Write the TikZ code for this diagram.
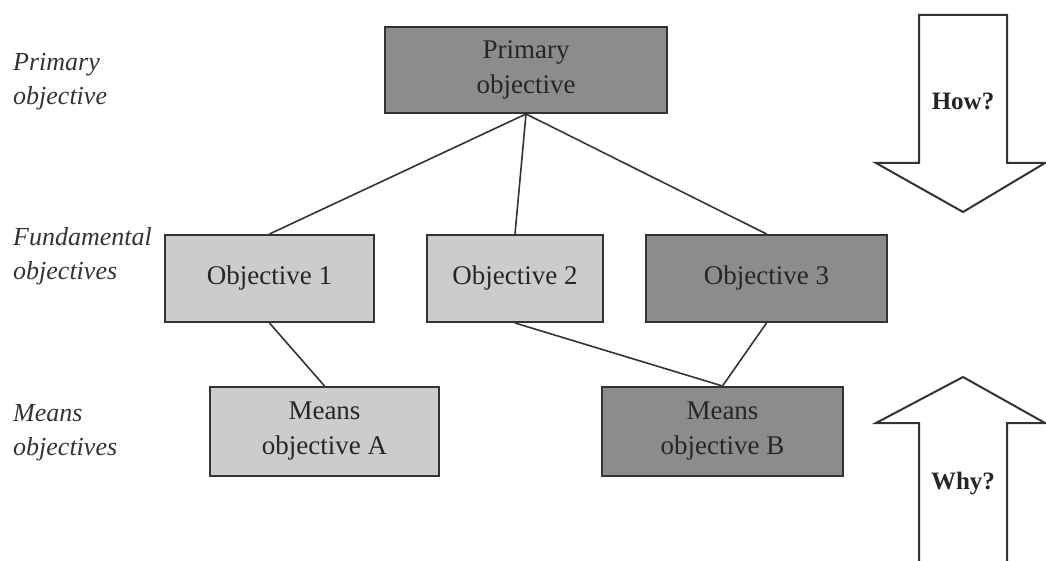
\documentclass[tikz,border=0pt]{standalone}
\usepackage{fontspec}
\setmainfont{Liberation Serif}
\definecolor{darkfill}{HTML}{8C8C8C}
\definecolor{lightfill}{HTML}{CCCCCC}
\definecolor{edge}{HTML}{333333}
\begin{document}
\begin{tikzpicture}[x=1pt,y=-1pt,
  objbox/.style={draw=edge, line width=2pt, inner sep=0pt, align=center,
    font=\fontsize{27}{35}\selectfont, text=black!85},
  darkbox/.style={objbox, fill=darkfill},
  lightbox/.style={objbox, fill=lightfill},
  levellabel/.style={anchor=north west, align=left, inner sep=0pt,
    font=\fontsize{26}{34}\selectfont\itshape, text=black!80},
  link/.style={draw=edge, line width=1.6pt},
  bigarrow/.style={draw=edge, line width=2pt, fill=white, line join=miter},
  arrowtext/.style={font=\fontsize{25}{30}\selectfont\bfseries, text=black!85}]
\useasboundingbox (0,0) rectangle (1046,561);

% level labels on the left
\node[levellabel] (lblprimary) at (13,53) {Primary\\objective};
\node[levellabel] (lblfund) at (13,227) {Fundamental\\objectives};
\node[levellabel] (lblmeans) at (13,404) {Means\\objectives};

% objective boxes
\node[darkbox, minimum width=282pt, minimum height=86pt] (primary) at (526,70) {Primary\\objective};
\node[lightbox, minimum width=209pt, minimum height=87pt] (obj1) at (269.5,278.5) {Objective 1};
\node[lightbox, minimum width=176pt, minimum height=87pt] (obj2) at (515,278.5) {Objective 2};
\node[darkbox, minimum width=241pt, minimum height=87pt] (obj3) at (766.5,278.5) {Objective 3};
\node[lightbox, minimum width=229pt, minimum height=89pt] (meansA) at (324.5,431.5) {Means\\objective A};
\node[darkbox, minimum width=241pt, minimum height=89pt] (meansB) at (722.5,431.5) {Means\\objective B};

% hierarchy links
\draw[link] (primary.south) -- (obj1.north);
\draw[link] (primary.south) -- (obj2.north);
\draw[link] (primary.south) -- (obj3.north);
\draw[link] (obj1.south) -- (meansA.north);
\draw[link] (obj2.south) -- (meansB.north);
\draw[link] (obj3.south) -- (meansB.north);

% "How?" arrow pointing down
\draw[bigarrow] (919,15) -- (1007,15) -- (1007,163) -- (1045,163) -- (963,212)
  -- (876,163) -- (919,163) -- cycle;
\node[arrowtext] (how) at (963,101) {How?};

% "Why?" arrow pointing up
\draw[bigarrow] (919,562) -- (919,423) -- (876,423) -- (963,377) -- (1045,423)
  -- (1007,423) -- (1007,562) -- cycle;
\node[arrowtext] (why) at (963,484) {Why?};
\end{tikzpicture}
\end{document}
